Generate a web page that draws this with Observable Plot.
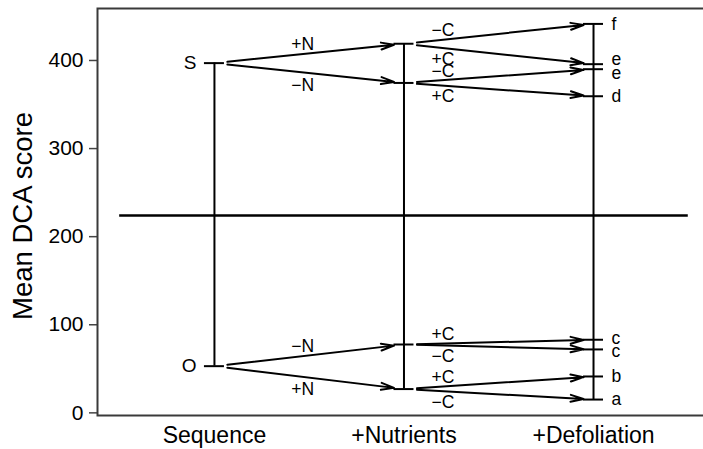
<!DOCTYPE html>
<html><head><meta charset="utf-8">
<script src="https://cdn.jsdelivr.net/npm/d3@7"></script>
<script src="https://cdn.jsdelivr.net/npm/@observablehq/plot@0.6"></script>
<style>html,body{margin:0;padding:0;background:#fff;overflow:hidden}</style>
</head><body><div id="chart"></div>
<script>
// ---- data ----
const categories = ["Sequence", "+Nutrients", "+Defoliation"];
const startLabels = ["S", "O"];
const startScores = [397, 53];
const nutrientLabels = ["+N", "−N", "−N", "+N"];
const nutrientSource = [397, 397, 53, 53];
const nutrientScores = [419, 374.5, 77.6, 27];
const defoliationLabels = ["−C", "+C", "−C", "+C", "+C", "−C", "+C", "−C"];
const defoliationSource = [419, 419, 374.5, 374.5, 77.6, 77.6, 27, 27];
const defoliationScores = [441.5, 395.8, 390.1, 359.4, 83, 72, 41.3, 15.1];
const groupLetters = ["f", "e", "e", "d", "c", "c", "b", "a"];
const divider = 224;
const yTicks = [0, 100, 200, 300, 400];

// ---- styling offsets (pixels / fractions), not data ----
const labelFrac = [0.465, 0.206];      // where along each stage the edge label sits
const labelUp = [-10, -9];             // pixel offset of labels above their arrow
const labelDown = [13, 11];            // pixel offset of labels below their arrow
const letterNudge = [0, -5, 4.5, 0, -1.5, 1.5, 0, 0];

// ---- derived tables ----
const nodes = [
  ...startScores.map(v => ({stage: 0, score: v})),
  ...nutrientScores.map(v => ({stage: 1, score: v})),
  ...defoliationScores.map(v => ({stage: 2, score: v}))
];
const spines = d3.groups(nodes, d => d.stage).map(([stage, arr]) => ({
  stage, lo: d3.min(arr, d => d.score), hi: d3.max(arr, d => d.score)
}));
const edges = [
  ...nutrientScores.map((t, i) => ({from: 0, to: 1, y1: nutrientSource[i], y2: t, label: nutrientLabels[i]})),
  ...defoliationScores.map((t, i) => ({from: 1, to: 2, y1: defoliationSource[i], y2: t, label: defoliationLabels[i]}))
];
edges.forEach(e => {
  const f = labelFrac[e.from];
  e.lx = e.from + f * (e.to - e.from);
  e.ly = e.y1 + f * (e.y2 - e.y1);
  e.dy = e.y2 > e.y1 ? labelUp[e.from] : labelDown[e.from];
});
const starts = startScores.map((v, i) => ({stage: 0, score: v, label: startLabels[i]}));
const ends = defoliationScores.map((v, i) => ({stage: 2, score: v, label: groupLetters[i], nudge: letterNudge[i]}));

const chart = Plot.plot({
  width: 703, height: 449,
  marginLeft: 97, marginRight: 1, marginTop: 8, marginBottom: 34,
  x: {domain: [-0.617, 2.575]},
  y: {domain: [-3, 459]},
  style: {fontFamily: "'Liberation Sans', Arial, Helvetica, sans-serif", color: "black", background: "white"},
  marks: [
    Plot.axisY(yTicks, {tickSize: 8, tickPadding: 6, fontSize: 21, stroke: "#444", strokeWidth: 1.5, label: null}),
    Plot.axisX([0, 1, 2], {tickSize: 0, tickPadding: 11, fontSize: 23, tickFormat: i => categories[i], label: null}),
    Plot.frame({stroke: "#3a3a3a", strokeWidth: 2, insetRight: -4}),
    Plot.ruleY([divider], {x1: -0.5, x2: 2.5, strokeWidth: 2.5, stroke: "black"}),
    Plot.ruleX(spines, {x: "stage", y1: "lo", y2: "hi", strokeWidth: 2, stroke: "black"}),
    Plot.ruleY(nodes, {x1: "stage", x2: "stage", y: "score", insetLeft: -10, insetRight: -10, strokeWidth: 2, stroke: "black"}),
    Plot.arrow(edges, {x1: "from", y1: "y1", x2: "to", y2: "y2", strokeWidth: 2, stroke: "black",
      headLength: 10, headAngle: 30, insetStart: 13, insetEnd: 10}),
    ...edges.map(e => Plot.text([e], {x: "lx", y: "ly", text: "label", dy: e.dy, fontSize: 17.5})),
    Plot.text(starts, {x: "stage", y: "score", text: "label", dx: -18, textAnchor: "end", fontSize: 19}),
    ...ends.map(e => Plot.text([e], {x: "stage", y: "score", text: "label", dx: 18, dy: e.nudge, textAnchor: "start", fontSize: 17.5})),
    Plot.text(["Mean DCA score"], {frameAnchor: "left", textAnchor: "middle", rotate: -90, dx: -74, dy: 4, fontSize: 27.5})
  ]
});
document.getElementById("chart").appendChild(chart);
</script>
</body></html>
